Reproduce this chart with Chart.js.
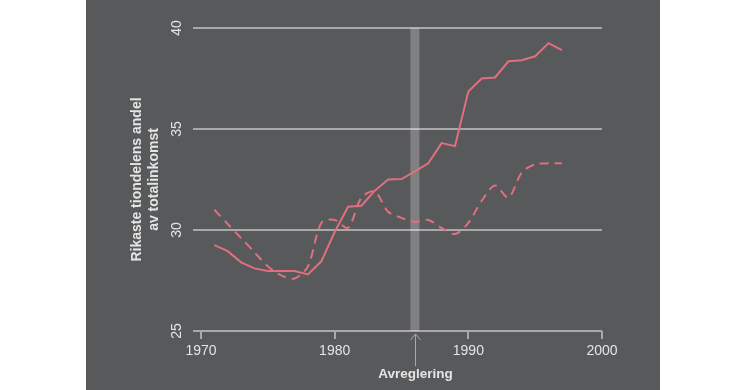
<!DOCTYPE html>
<html lang="sv">
<head>
  <meta charset="UTF-8">
  <script src="https://cdn.jsdelivr.net/npm/chart.js"></script>
  <style>
    body, html {
      margin: 0;
      padding: 0;
      background: #ffffff;
    }

    .panel {
      position: absolute;
      left: 86px;
      top: 0;
      width: 574px;
      height: 390px;
      background-color: #58595b;
    }
  </style>
</head>
<body>
  <div class="panel">
    <canvas id="share-chart" width="574" height="390"></canvas>
  </div>
  <script>
    const years = [1971, 1972, 1973, 1974, 1975, 1976, 1977, 1978, 1979, 1980,
                   1981, 1982, 1983, 1984, 1985, 1986, 1987, 1988, 1989, 1990,
                   1991, 1992, 1993, 1994, 1995, 1996, 1997];
    const solidShare = [29.25, 28.95, 28.4, 28.1, 27.97, 27.97, 27.97, 27.8, 28.45, 29.9,
                        31.15, 31.2, 31.95, 32.5, 32.52, 32.9, 33.3, 34.3, 34.15, 36.85,
                        37.5, 37.55, 38.35, 38.4, 38.6, 39.25, 38.9];
    const dashedShare = [31.0, 30.3, 29.6, 28.9, 28.2, 27.75, 27.6, 28.2, 30.35, 30.5,
                         30.1, 31.6, 31.9, 30.9, 30.6, 30.4, 30.5, 30.1, 29.8, 30.35,
                         31.45, 32.2, 31.6, 32.85, 33.25, 33.3, 33.3];
    const xTicks = [1970, 1980, 1990, 2000];
    const yTicks = [25, 30, 35, 40];
    const reformYear = 1986;
    const reformLabel = 'Avreglering';
    const yTitle = ['Rikaste tiondelens andel', 'av totalinkomst'];

    const lineColor = '#e0707f';
    const textColor = '#e4e4e4';
    const gridColor = '#a9a9a9';
    const fontFamily = '"Liberation Sans", Arial, sans-serif';

    const reformPlugin = {
      id: 'reform',
      beforeDatasetsDraw(chart) {
        const {ctx, chartArea, scales} = chart;
        const x = scales.x.getPixelForValue(reformYear);
        ctx.save();
        ctx.fillStyle = 'rgba(255, 255, 255, 0.24)';
        ctx.fillRect(x - 4.5, chartArea.top, 9, chartArea.bottom - chartArea.top);
        ctx.restore();
      },
      afterDraw(chart) {
        const {ctx, chartArea, scales} = chart;
        const x = Math.round(scales.x.getPixelForValue(reformYear)) + 0.5;
        const b = chartArea.bottom;
        ctx.save();
        ctx.strokeStyle = '#a9a9a9';
        ctx.lineWidth = 1;
        ctx.beginPath();
        ctx.moveTo(x, b + 3);
        ctx.lineTo(x, b + 35);
        ctx.moveTo(x - 5, b + 9);
        ctx.lineTo(x, b + 3);
        ctx.lineTo(x + 5, b + 9);
        ctx.stroke();
        ctx.fillStyle = textColor;
        ctx.font = 'bold 13.5px ' + fontFamily;
        ctx.textAlign = 'center';
        ctx.textBaseline = 'middle';
        ctx.fillText(reformLabel, x, b + 43);
        ctx.restore();
      }
    };

    new Chart(document.getElementById('share-chart'), {
      type: 'line',
      data: {
        datasets: [{
          label: 'Heldragen',
          data: years.map((y, i) => ({x: y, y: solidShare[i]})),
          borderColor: lineColor,
          borderWidth: 2,
          pointRadius: 0,
          tension: 0
        }, {
          label: 'Streckad',
          data: years.map((y, i) => ({x: y, y: dashedShare[i]})),
          borderColor: lineColor,
          borderWidth: 2,
          borderDash: [9, 6],
          pointRadius: 0,
          tension: 0.3
        }]
      },
      options: {
        responsive: false,
        animation: false,
        devicePixelRatio: 1,
        layout: {
          padding: {left: 39, right: 58, top: 28, bottom: 0}
        },
        plugins: {
          legend: {display: false},
          tooltip: {enabled: false}
        },
        scales: {
          x: {
            type: 'linear',
            min: 1969.4,
            max: 2000,
            afterBuildTicks(scale) {
              scale.ticks = xTicks.map(v => ({value: v}));
            },
            afterFit(scale) {
              scale.height = 59;
            },
            border: {display: false},
            grid: {
              drawOnChartArea: false,
              drawTicks: true,
              tickLength: 8,
              color: gridColor,
              lineWidth: 2
            },
            ticks: {
              color: textColor,
              padding: 4,
              maxRotation: 0,
              callback: v => String(v),
              font: {family: fontFamily, size: 14}
            }
          },
          y: {
            min: 25,
            max: 40,
            afterBuildTicks(scale) {
              scale.ticks = yTicks.map(v => ({value: v}));
            },
            afterFit(scale) {
              scale.width = 68;
            },
            border: {display: false},
            grid: {
              drawTicks: false,
              color: gridColor,
              lineWidth: 2
            },
            ticks: {
              color: textColor,
              padding: 8,
              minRotation: 90,
              maxRotation: 90,
              crossAlign: 'center',
              callback: v => String(v),
              font: {family: fontFamily, size: 14}
            },
            title: {
              display: true,
              text: yTitle,
              color: textColor,
              padding: {top: 4, bottom: 4},
              font: {family: fontFamily, size: 14, weight: 'bold', lineHeight: 1.2}
            }
          }
        }
      },
      plugins: [reformPlugin]
    });
  </script>
</body>
</html>
